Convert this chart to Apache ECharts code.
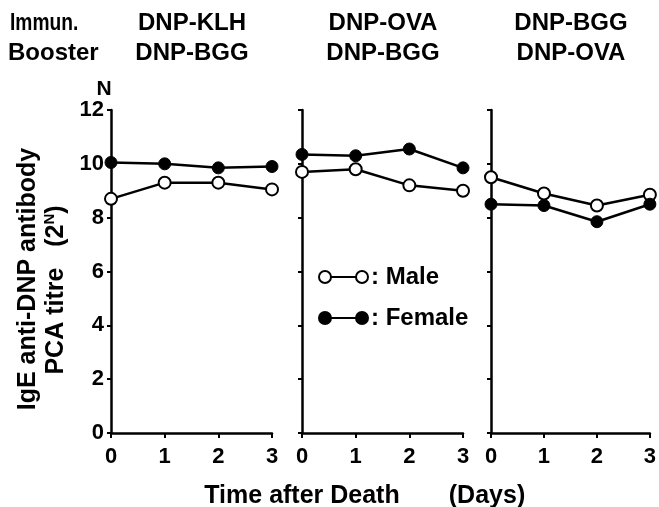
<!DOCTYPE html>
<html>
<head>
<meta charset="utf-8">
<script src="https://cdn.jsdelivr.net/npm/echarts@6/dist/echarts.min.js"></script>
<style>
  html, body { margin: 0; padding: 0; background: #fff; }
  #chart { width: 659px; height: 507px; }
</style>
</head>
<body>
<div id="chart"></div>
<script>
// values
const days = [0, 1, 2, 3]
const yTicks = [0, 2, 4, 6, 8, 10, 12]
const immunLabels = ['DNP-KLH', 'DNP-OVA', 'DNP-BGG']
const boosterLabels = ['DNP-BGG', 'DNP-BGG', 'DNP-OVA']
const maleKLH = [8.7, 9.3, 9.3, 9.05]
const femaleKLH = [10.05, 10.0, 9.85, 9.9]
const maleOVA = [9.7, 9.8, 9.2, 9.0]
const femaleOVA = [10.35, 10.3, 10.55, 9.85]
const maleBGG = [9.5, 8.9, 8.45, 8.85]
const femaleBGG = [8.5, 8.45, 7.85, 8.5]

const maleSets = [maleKLH, maleOVA, maleBGG]
const femaleSets = [femaleKLH, femaleOVA, femaleBGG]

const FONT = '"Liberation Sans", Arial, sans-serif'
const lefts = [111, 302, 491]
const colCenters = [192, 383, 571]

let myChart = echarts.init(document.getElementById('chart'))

function pairs(vals) {
  return days.map((d, i) => [d, vals[i]])
}

let grids = lefts.map(l => ({ left: l, top: 110, width: 161, height: 323 }))

let xAxes = lefts.map((l, i) => ({
  type: 'value',
  gridIndex: i,
  min: days[0],
  max: days[days.length - 1],
  interval: 1,
  splitLine: { show: false },
  axisLine: { lineStyle: { color: '#000', width: 2.5 } },
  axisTick: { show: true, inside: false, length: 5, lineStyle: { color: '#000', width: 2 } },
  axisLabel: { margin: 13, color: '#000', fontSize: 22, fontWeight: 'bold', fontFamily: FONT }
}))

let yAxes = lefts.map((l, i) => ({
  type: 'value',
  gridIndex: i,
  min: yTicks[0],
  max: yTicks[yTicks.length - 1],
  interval: yTicks[1] - yTicks[0],
  splitLine: { show: false },
  axisLine: { show: true, lineStyle: { color: '#000', width: 2.5 } },
  axisTick: { show: true, inside: false, length: 4, lineStyle: { color: '#000', width: 2 } },
  axisLabel: {
    show: i === 0, margin: 7, color: '#000', fontSize: 22, fontWeight: 'bold', fontFamily: FONT
  }
}))

let series = []
for (let i = 0; i < 3; i++) {
  series.push({
    name: 'Male',
    type: 'line',
    xAxisIndex: i,
    yAxisIndex: i,
    data: pairs(maleSets[i]),
    symbol: 'circle',
    symbolSize: 12,
    clip: false,
    lineStyle: { color: '#000', width: 2.5 },
    itemStyle: { color: '#fff', borderColor: '#000', borderWidth: 2 },
    z: 3
  })
  series.push({
    name: 'Female',
    type: 'line',
    xAxisIndex: i,
    yAxisIndex: i,
    data: pairs(femaleSets[i]),
    symbol: 'circle',
    symbolSize: 12,
    clip: false,
    lineStyle: { color: '#000', width: 2.5 },
    itemStyle: { color: '#000', borderColor: '#000', borderWidth: 1 },
    z: 4
  })
}

function txt(text, x, y, size, align, extra) {
  return Object.assign({
    type: 'text',
    x: x,
    y: y,
    style: {
      text: text,
      fill: '#000',
      font: 'bold ' + size + 'px ' + FONT,
      textAlign: align || 'center',
      textVerticalAlign: 'middle'
    }
  }, extra || {})
}

let graphics = []
graphics.push(txt('Immun.', 10, 23, 24, 'left', { scaleX: 0.8 }))
graphics.push(txt('Booster', 8, 53, 24, 'left'))
for (let i = 0; i < 3; i++) {
  graphics.push(txt(immunLabels[i], colCenters[i], 23, 24))
  graphics.push(txt(boosterLabels[i], colCenters[i], 53, 24))
}
graphics.push(txt('N', 104, 89, 21))

// y axis title (rotated)
graphics.push(txt('IgE anti-DNP antibody', 28, 279, 25, 'center', { rotation: Math.PI / 2 }))
graphics.push({
  type: 'text',
  x: 56,
  y: 290,
  rotation: Math.PI / 2,
  style: {
    text: 'PCA titre   (2{s|N})',
    fill: '#000',
    font: 'bold 25px ' + FONT,
    textAlign: 'center',
    textVerticalAlign: 'middle',
    rich: { s: { fontSize: 15, fontWeight: 'bold', fontFamily: FONT, verticalAlign: 'top', padding: [0, 0, 12, 0] } }
  }
})

// x axis title
graphics.push(txt('Time after Death', 302, 496, 25))
graphics.push(txt('(Days)', 487, 496, 25))

// legend
const legY = [277, 318]
const legFill = ['#fff', '#000']
const legText = [': Male', ': Female']
for (let k = 0; k < 2; k++) {
  graphics.push({ type: 'line', shape: { x1: 325, y1: legY[k], x2: 362, y2: legY[k] }, style: { stroke: '#000', lineWidth: 2 } })
  graphics.push({ type: 'circle', shape: { cx: 325, cy: legY[k], r: 6 }, style: { fill: legFill[k], stroke: '#000', lineWidth: 2 }, z: 10 })
  graphics.push({ type: 'circle', shape: { cx: 362, cy: legY[k], r: 6 }, style: { fill: legFill[k], stroke: '#000', lineWidth: 2 }, z: 10 })
  graphics.push(txt(legText[k], 371, legY[k], 24, 'left'))
}

let option = {
  backgroundColor: '#fff',
  animation: false,
  grid: grids,
  xAxis: xAxes,
  yAxis: yAxes,
  series: series,
  graphic: graphics
}

option && myChart.setOption(option)
</script>
</body>
</html>
